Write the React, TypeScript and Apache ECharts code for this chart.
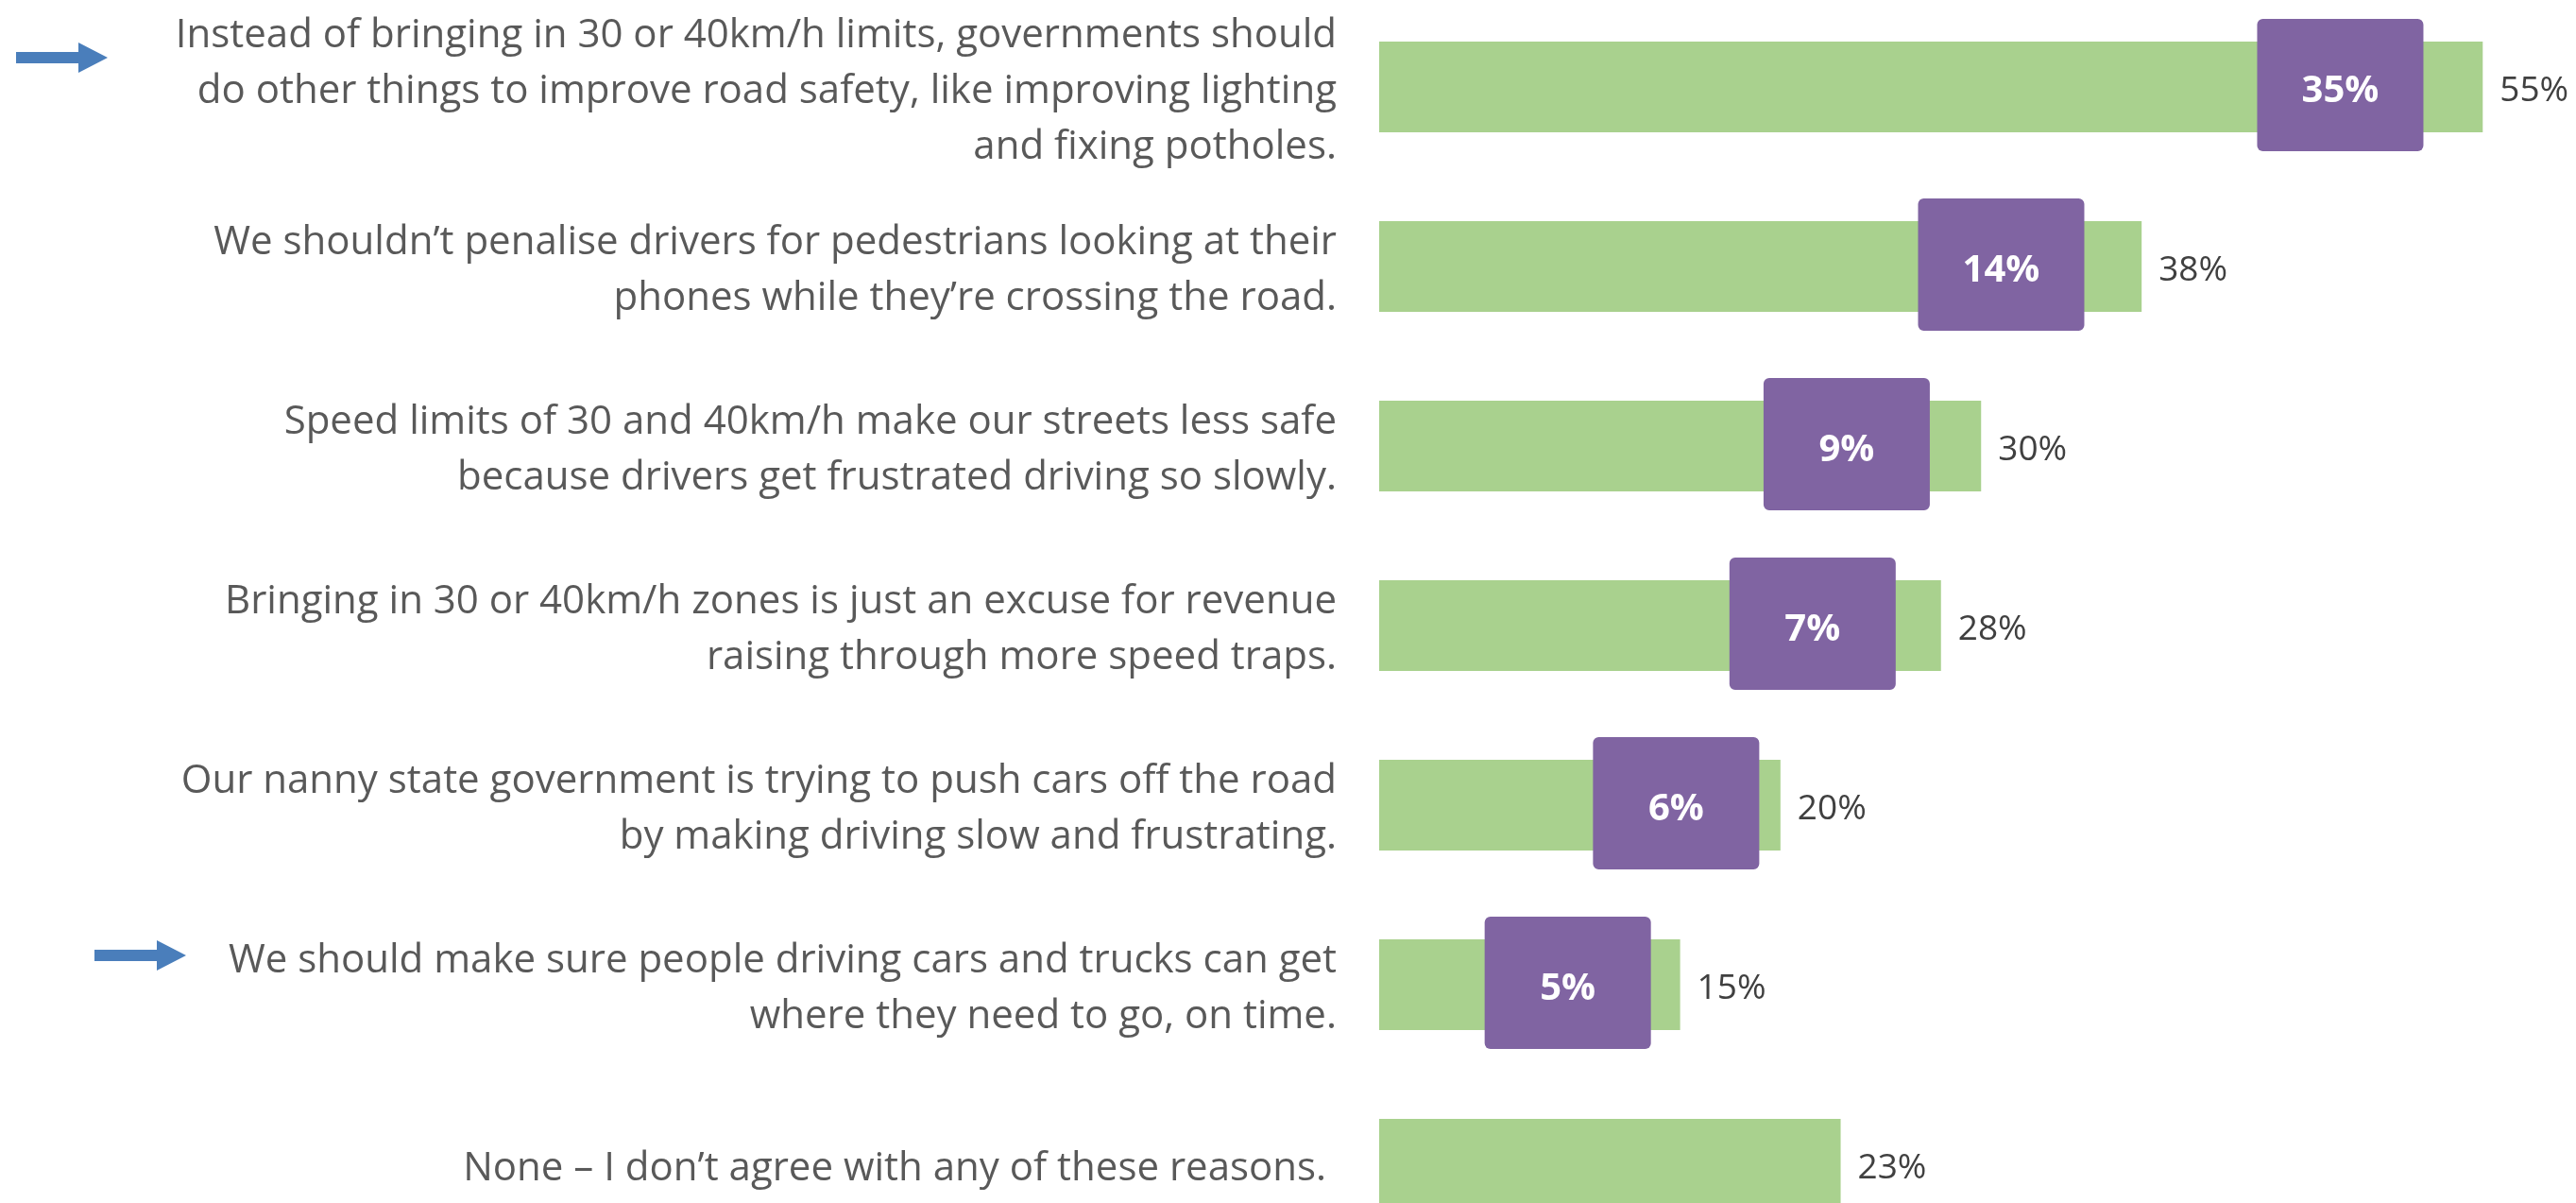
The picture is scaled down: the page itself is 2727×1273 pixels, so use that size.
import React, { useEffect, useRef } from "react";
import * as echarts from "echarts";

const categories = [
  "Instead of bringing in 30 or 40km/h limits, governments should\ndo other things to improve road safety, like improving lighting\nand fixing potholes.",
  "We shouldn’t penalise drivers for pedestrians looking at their\nphones while they’re crossing the road.",
  "Speed limits of 30 and 40km/h make our streets less safe\nbecause drivers get frustrated driving so slowly.",
  "Bringing in 30 or 40km/h zones is just an excuse for revenue\nraising through more speed traps.",
  "Our nanny state government is trying to push cars off the road\nby making driving slow and frustrating.",
  "We should make sure people driving cars and trucks can get\nwhere they need to go, on time.",
  "None – I don’t agree with any of these reasons. ",
];

// Total agree (%)
const totalAgree = [55, 38, 30, 28, 20, 15, 23];
// Strongly agree (%) – null where no box is shown
const stronglyAgree: (number | null)[] = [35, 14, 9, 7, 6, 5, null];
// Where each "strongly agree" box sits along the value axis
const strongBoxAt: (number | null)[] = [47.9, 31.0, 23.3, 21.6, 14.8, 9.4, null];
// Rows flagged with an arrow
const arrowRows = [0, 5];

const FONT = "'Open Sans', 'Noto Sans', sans-serif";

export default function App() {
  const ref = useRef<HTMLDivElement>(null);

  useEffect(() => {
    if (!ref.current) return;
    const chart = echarts.init(ref.current, undefined, { renderer: "svg" });

    const customData = stronglyAgree
      .map((v, i) => (v == null ? null : [strongBoxAt[i], i, v]))
      .filter((d) => d != null);

    const arrowShapes = [
      { dx: 0, dy: 0 },
      { dx: 83, dy: 950 },
    ];

    chart.setOption({
      animation: false,
      grid: { left: 1460, width: 1232, top: 0, height: 1330, containLabel: false },
      xAxis: {
        type: "value",
        min: 0,
        max: 58,
        show: false,
      },
      yAxis: {
        type: "category",
        inverse: true,
        data: categories,
        axisLine: { show: false },
        axisTick: { show: false },
        splitLine: { show: false },
        axisLabel: {
          fontFamily: FONT,
          fontSize: 42,
          lineHeight: 59,
          color: "#595959",
          margin: 45,
          align: "right",
        },
      },
      series: [
        {
          type: "bar",
          data: totalAgree,
          barWidth: 96,
          itemStyle: { color: "#A9D18E" },
          label: {
            show: true,
            position: "right",
            distance: 18,
            formatter: "{c}%",
            fontFamily: FONT,
            fontSize: 37,
            color: "#404040",
          },
          z: 2,
        },
        {
          type: "custom",
          data: customData,
          encode: { x: 0, y: 1 },
          z: 3,
          renderItem: (params: any, api: any) => {
            const pt = api.coord([api.value(0), api.value(1)]);
            const w = 176;
            const h = 140;
            const cy = pt[1] - 2;
            return {
              type: "group",
              children: [
                {
                  type: "rect",
                  shape: { x: pt[0] - w / 2, y: cy - h / 2, width: w, height: h, r: 6 },
                  style: { fill: "#8064A2" },
                },
                {
                  type: "text",
                  style: {
                    text: api.value(2) + "%",
                    x: pt[0],
                    y: pt[1],
                    align: "center",
                    verticalAlign: "middle",
                    fill: "#FFFFFF",
                    font: `bold 40px ${FONT}`,
                  },
                },
              ],
            };
          },
        },
      ],
      graphic: arrowRows.map((row, k) => {
        const { dx, dy } = arrowShapes[k];
        return {
          type: "polygon",
          shape: {
            points: [
              [17 + dx, 58 + dy],
              [83 + dx, 58 + dy],
              [83 + dx, 48 + dy],
              [114 + dx, 64 + dy],
              [83 + dx, 80 + dy],
              [83 + dx, 70 + dy],
              [17 + dx, 70 + dy],
            ],
          },
          style: { fill: "#4A7EBB" },
        };
      }),
    });

    return () => chart.dispose();
  }, []);

  return (
    <div
      ref={ref}
      style={{ position: "fixed", left: 0, top: -3, width: 2727, height: 1340 }}
    />
  );
}
